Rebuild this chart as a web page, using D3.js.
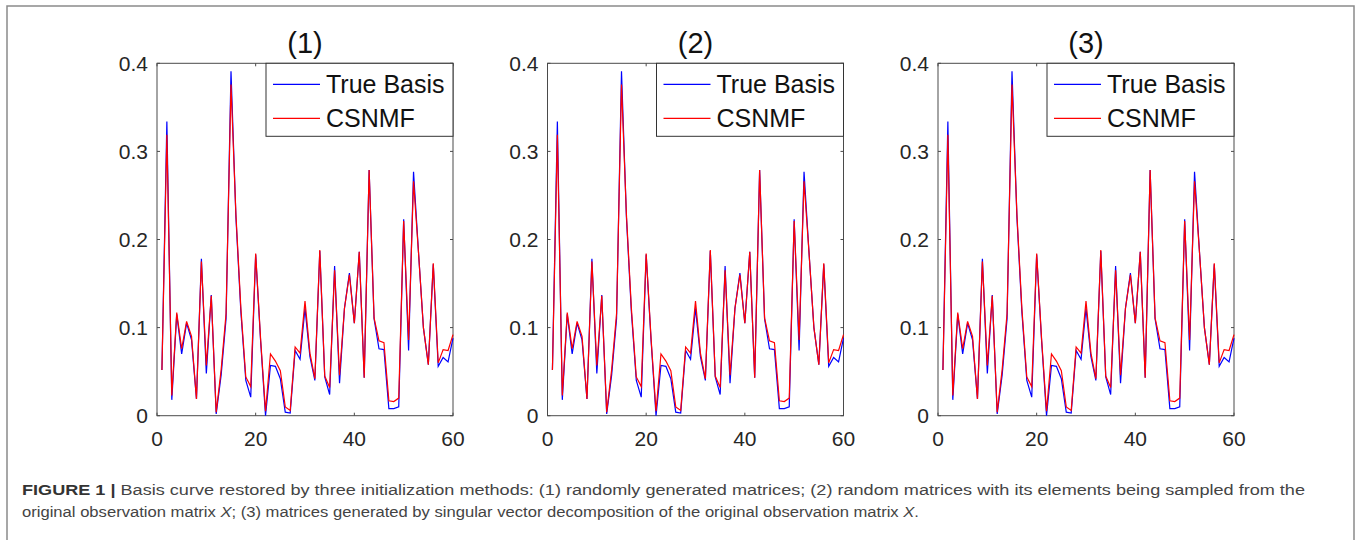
<!DOCTYPE html>
<html>
<head>
<meta charset="utf-8">
<script src="https://cdn.jsdelivr.net/npm/d3@7"></script>
<style>
  body { margin: 0; background: #fff; }
  svg { display: block; font-family: "Liberation Sans", Arial, sans-serif; }
</style>
</head>
<body>
<div id="chart"></div>
<script>
// values, index 1..60
const sampleIndex = d3.range(1, 61);
const trueBasis = [0.052, 0.334, 0.018, 0.115, 0.070, 0.105, 0.086, 0.019, 0.178, 0.048,
  0.137, 0.002, 0.046, 0.110, 0.391, 0.225, 0.118, 0.040, 0.021, 0.183,
  0.085, 0.000, 0.057, 0.056, 0.042, 0.004, 0.003, 0.074, 0.064, 0.122,
  0.067, 0.040, 0.187, 0.044, 0.024, 0.170, 0.037, 0.122, 0.162, 0.105,
  0.186, 0.043, 0.279, 0.110, 0.076, 0.075, 0.008, 0.008, 0.010, 0.223,
  0.074, 0.277, 0.186, 0.100, 0.058, 0.172, 0.056, 0.066, 0.061, 0.088];
const csnmfCurve = [0.052, 0.319, 0.023, 0.117, 0.076, 0.107, 0.090, 0.019, 0.175, 0.057,
  0.136, 0.004, 0.052, 0.116, 0.376, 0.228, 0.122, 0.044, 0.033, 0.184,
  0.087, 0.005, 0.070, 0.062, 0.051, 0.010, 0.006, 0.078, 0.071, 0.130,
  0.071, 0.042, 0.188, 0.045, 0.032, 0.165, 0.046, 0.122, 0.160, 0.105,
  0.186, 0.043, 0.279, 0.111, 0.085, 0.083, 0.017, 0.016, 0.020, 0.221,
  0.086, 0.266, 0.186, 0.100, 0.058, 0.173, 0.060, 0.075, 0.074, 0.092];
const panelTitles = ["(1)", "(2)", "(3)"];
const xTicks = [0, 20, 40, 60];
const yTicks = [0, 0.1, 0.2, 0.3, 0.4];
const legendLabels = ["True Basis", "CSNMF"];

const W = 1360, H = 540;
const svg = d3.select("#chart").append("svg").attr("width", W).attr("height", H);

// outer frame of the figure
svg.append("rect").attr("x", 7).attr("y", 6).attr("width", 1347).attr("height", 560)
  .attr("fill", "none").attr("stroke", "#8a8a8a").attr("stroke-width", 1.5);

const plotW = 296, plotH = 352.4, plotTop = 63.3;
const panelLeft = [157, 547.5, 938];
const axisColor = "#4a4a4a";

const x = d3.scaleLinear().domain([0, 60]).range([0, plotW]);
const y = d3.scaleLinear().domain([0, 0.4]).range([plotH, 0]);
const line = d3.line().x((d, i) => x(sampleIndex[i])).y(d => y(d));

panelTitles.forEach((title, p) => {
  const g = svg.append("g").attr("transform", `translate(${panelLeft[p]},${plotTop})`);

  g.append("text").attr("x", plotW / 2).attr("y", -10)
    .attr("text-anchor", "middle").attr("font-size", 29).attr("fill", "#111")
    .text(title);

  // box
  g.append("rect").attr("width", plotW).attr("height", plotH)
    .attr("fill", "none").attr("stroke", axisColor).attr("stroke-width", 1);

  // inward ticks on all four sides
  const ax = g.append("g").attr("stroke", axisColor).attr("stroke-width", 1);
  xTicks.forEach(t => {
    ax.append("line").attr("x1", x(t)).attr("x2", x(t)).attr("y1", plotH).attr("y2", plotH - 3);
    ax.append("line").attr("x1", x(t)).attr("x2", x(t)).attr("y1", 0).attr("y2", 3);
  });
  yTicks.forEach(t => {
    ax.append("line").attr("x1", 0).attr("x2", 3).attr("y1", y(t)).attr("y2", y(t));
    ax.append("line").attr("x1", plotW).attr("x2", plotW - 3).attr("y1", y(t)).attr("y2", y(t));
  });

  g.selectAll(".xl").data(xTicks).join("text")
    .attr("x", d => x(d)).attr("y", plotH + 30)
    .attr("text-anchor", "middle").attr("font-size", 21).attr("fill", "#262626")
    .text(d => d);
  g.selectAll(".yl").data(yTicks).join("text")
    .attr("x", -9).attr("y", d => y(d) + 7.5)
    .attr("text-anchor", "end").attr("font-size", 21).attr("fill", "#262626")
    .text(d => d3.format("")(d));

  g.append("path").datum(trueBasis).attr("d", line)
    .attr("fill", "none").attr("stroke", "#0000ff").attr("stroke-width", 1.2);
  g.append("path").datum(csnmfCurve).attr("d", line)
    .attr("fill", "none").attr("stroke", "#ff0000").attr("stroke-width", 1.2);

  // legend in the top right corner
  const lw = 187, lh = 73;
  const lg = g.append("g").attr("transform", `translate(${plotW - lw},0)`);
  lg.append("rect").attr("width", lw).attr("height", lh)
    .attr("fill", "#fff").attr("stroke", "#333").attr("stroke-width", 1);
  ["#0000ff", "#ff0000"].forEach((c, k) => {
    const ly = 21 + k * 34;
    lg.append("line").attr("x1", 7).attr("x2", 54).attr("y1", ly).attr("y2", ly)
      .attr("stroke", c).attr("stroke-width", 1.2);
    lg.append("text").attr("x", 60).attr("y", ly + 9)
      .attr("font-size", 25).attr("fill", "#111").text(legendLabels[k]);
  });
});

// caption
const cap1 = svg.append("text").attr("x", 22).attr("y", 495).attr("font-size", 15.5)
  .attr("fill", "#444").attr("textLength", 1283).attr("lengthAdjust", "spacingAndGlyphs");
cap1.append("tspan").attr("font-weight", "bold").attr("fill", "#333").text("FIGURE 1 | ");
cap1.append("tspan").text("Basis curve restored by three initialization methods: (1) randomly generated matrices; (2) random matrices with its elements being sampled from the");

const cap2 = svg.append("text").attr("x", 22).attr("y", 517).attr("font-size", 15.5)
  .attr("fill", "#444").attr("textLength", 897).attr("lengthAdjust", "spacingAndGlyphs");
cap2.append("tspan").text("original observation matrix ");
cap2.append("tspan").attr("font-style", "italic").text("X");
cap2.append("tspan").text("; (3) matrices generated by singular vector decomposition of the original observation matrix ");
cap2.append("tspan").attr("font-style", "italic").text("X");
cap2.append("tspan").text(".");
</script>
</body>
</html>
